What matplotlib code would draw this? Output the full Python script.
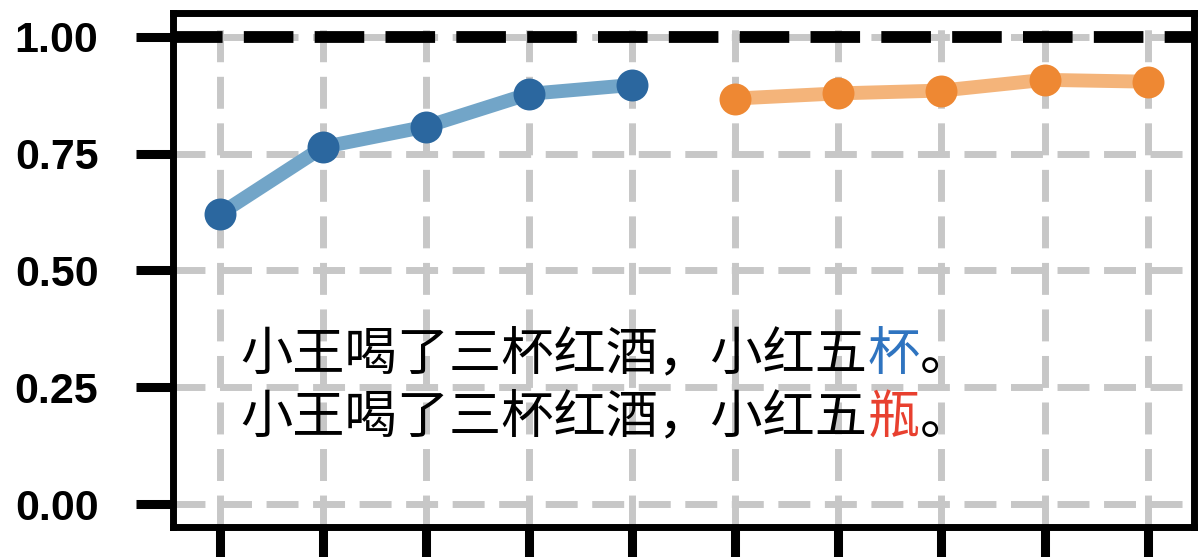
import matplotlib
matplotlib.use("Agg")
import matplotlib.pyplot as plt
from matplotlib.transforms import ScaledTranslation

# accuracy per round, two runs
steps_a = [0, 1, 2, 3, 4]
acc_a = [0.621, 0.764, 0.808, 0.878, 0.897]
steps_b = [5, 6, 7, 8, 9]
acc_b = [0.868, 0.879, 0.885, 0.908, 0.904]
y_ticks = [0.00, 0.25, 0.50, 0.75, 1.00]
ceiling = 1.0

# sentences: body text, highlighted character, ending, highlight colour
sentences = [
    ("小王喝了三杯红酒，小红五", "杯", "。", "#2f74c0"),
    ("小王喝了三杯红酒，小红五", "瓶", "。", "#e8402f"),
]

blue, blue_line = "#2b679f", "#72a5c8"
orange, orange_line = "#ee8833", "#f4b47a"

fig = plt.figure(figsize=(11.99, 5.57), dpi=100)
ax = fig.add_axes([0.1447, 0.053, 0.8511, 0.9228])

ax.plot(steps_a, acc_a, color=blue_line, lw=10, zorder=3)
ax.plot(steps_a, acc_a, "o", color=blue, ms=23, mew=0, zorder=4)
ax.plot(steps_b, acc_b, color=orange_line, lw=10, zorder=3)
ax.plot(steps_b, acc_b, "o", color=orange, ms=23, mew=0, zorder=4)

ax.axhline(ceiling, color="black", lw=8.5, ls=(0, (4.2, 1.8)), zorder=2)

ax.set_xlim(-0.45, 9.45)
ax.set_ylim(-0.05, 1.05)
ax.set_xticks(range(10))
ax.set_yticks(y_ticks)
ax.set_yticklabels([f"{v:.2f}" for v in y_ticks])

ax.grid(True, color="0.78", lw=5, ls=(0, (4.6, 2.1)), zorder=1)
ax.set_axisbelow(True)

for s in ax.spines.values():
    s.set_linewidth(5)
ax.tick_params(axis="both", length=27, width=6.5, pad=27, labelbottom=False)
for lab in ax.get_yticklabels():
    lab.set_fontfamily(["Liberation Sans", "DejaVu Sans"])
    lab.set_fontweight("bold")
    lab.set_fontsize(31)

# CJK glyphs are one em wide, so each piece is shifted by whole ems
fs = 37.6
cjk = ["Noto Sans CJK SC", "DejaVu Sans"]
for (body, mark, tail, color), y in zip(sentences, [0.318, 0.182]):
    pieces = [(body, "black"), (mark, color), (tail, "black")]
    shift = 0
    for txt, c in pieces:
        tr = ax.transData + ScaledTranslation(shift * fs / 72, 0, fig.dpi_scale_trans)
        ax.text(0.2, y, txt, fontsize=fs, family=cjk, color=c,
                va="center", ha="left", transform=tr, zorder=5)
        shift += len(txt)

fig.savefig("out.png", dpi=100)
